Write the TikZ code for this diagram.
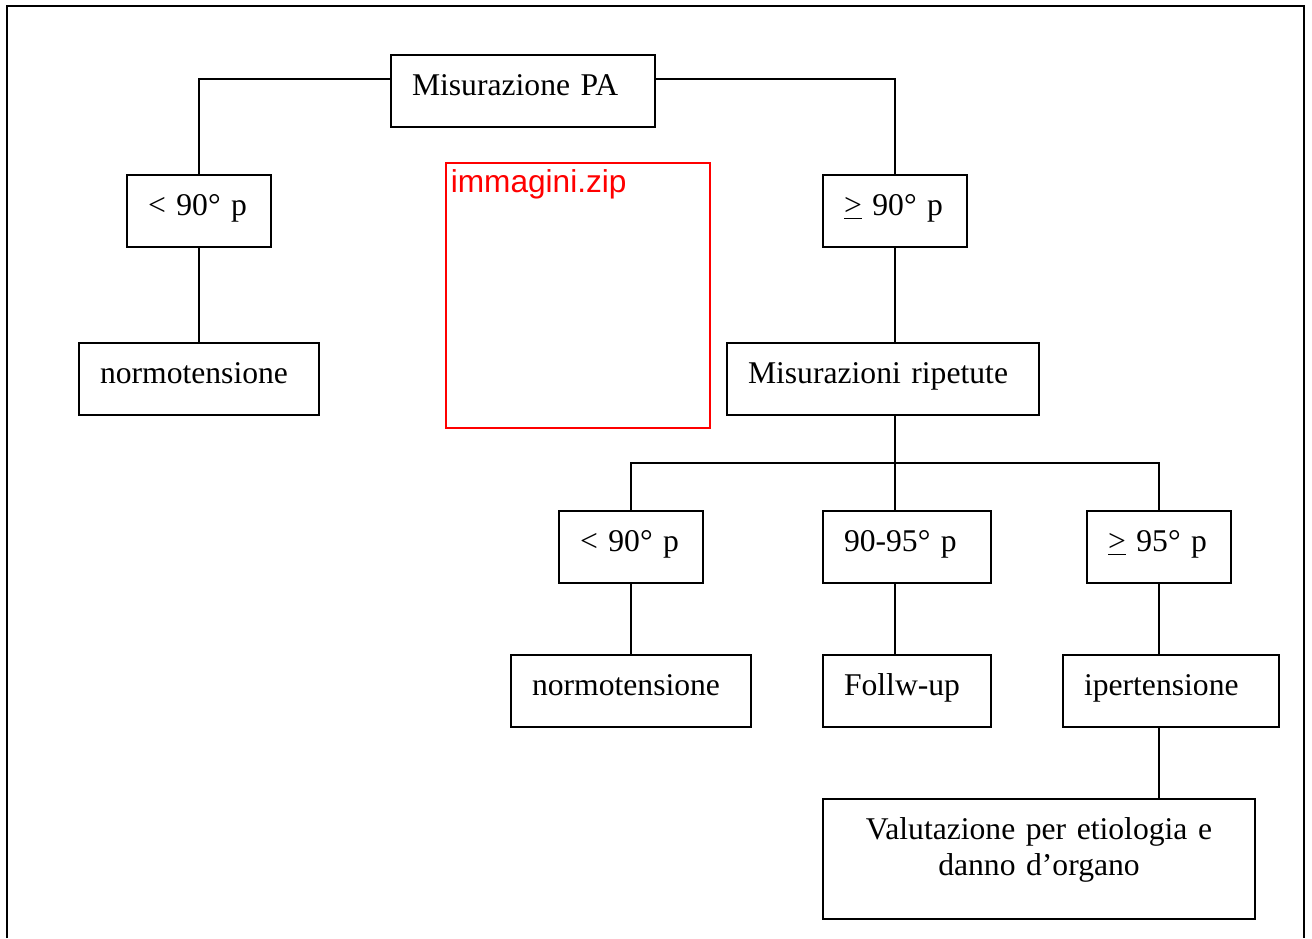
\documentclass[tikz,border=0pt]{standalone}
\usepackage{fontspec}
\setmainfont{Liberation Serif}
\newfontfamily\zipfont{Liberation Sans}
\usetikzlibrary{positioning}
\tikzset{font=\fontsize{18}{21}\selectfont}

\begin{document}
\begin{tikzpicture}[line width=0.9pt,box/.style={draw,inner xsep=0.42cm,align=left,text height={0.5cm},text depth={0.3cm},minimum height={1.44cm}}]
      \useasboundingbox (0,0) rectangle (26.24,18.76);
      \draw (0.14,0) -- (0.14,18.64) -- (26.08,18.64) -- (26.08,0);

      \node[box,text width={4.44cm}] (PA) at (10.46,16.94) {Misurazione PA};

      \node[box,text width={2.04cm}] (L90) at (3.98,14.54) {< 90° p};
      \node[box,text width={3.96cm}] (N1) at (3.98,11.18) {normotensione};

      \node[box,text width={2.04cm}] (G90) at (17.90,14.54) {\underline{>} 90° p};
      \node[box,text width={5.40cm}] (MR) at (17.66,11.18) {Misurazioni ripetute};

      \node[box,text width={2.04cm}] (L90b) at (12.62,7.82) {< 90° p};
      \node[box,text width={2.52cm}] (M95) at (18.14,7.82) {90-95° p};
      \node[box,text width={2.04cm}] (G95) at (23.18,7.82) {\underline{>} 95° p};

      \node[box,text width={3.96cm}] (N2) at (12.62,4.94) {normotensione};
      \node[box,text width={2.52cm}] (FU) at (18.14,4.94) {Follw-up};
      \node[box,text width={3.48cm}] (IP) at (23.42,4.94) {ipertensione};

      \node[draw,inner xsep=0.42cm,inner ysep=0pt,text width={7.8cm},align=center,text height={0.8cm},text depth={1.6cm}] (VE) at (20.78,1.58) {Valutazione per etiologia e\\danno d’organo};

      \node[draw=red,line width=1.4pt,minimum width={5.28cm},minimum height={5.3cm}] (ZIP) at (11.56,12.85) {};
      \node[anchor=base west,inner sep=0pt,text=red,font=\zipfont\fontsize{18}{21}\selectfont] (ZIPt) at (9.0,14.90) {immagini.zip};

      \coordinate (S) at (17.90,9.50);

      \draw ([yshift=0.24cm]PA.west) -| (L90.north);
      \draw ([yshift=0.24cm]PA.east) -| (G90.north);
      \draw (L90.south) -- (N1.north);
      \draw (G90.south) -- (G90.south |- MR.north);
      \draw (S |- MR.south) -- (S);
      \draw (L90b.north) |- (S) -| (G95.north);
      \draw (S) -- (S |- M95.north);
      \draw (L90b.south) -- (N2.north);
      \draw (S |- M95.south) -- (S |- FU.north);
      \draw (G95.south) -- (G95.south |- IP.north);
      \draw (G95.south |- IP.south) -- (G95.south |- VE.north);
  \end{tikzpicture}
\end{document}
